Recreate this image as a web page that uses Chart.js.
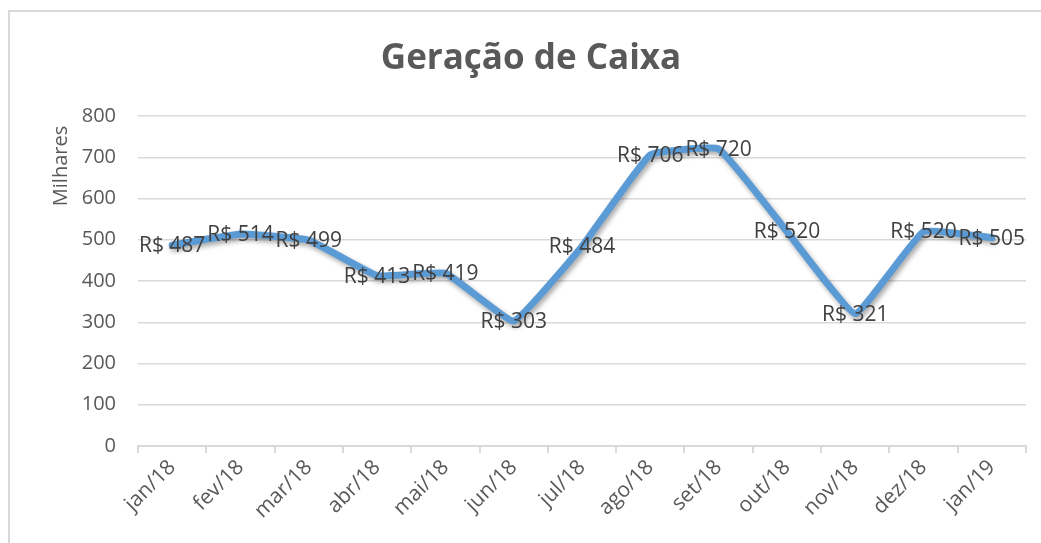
<!DOCTYPE html>
<html>
<head>
<meta charset="utf-8">
<script src="https://cdn.jsdelivr.net/npm/chart.js@4"></script>
<style>
  html, body { margin: 0; padding: 0; background: #fff; }
  #wrap { position: relative; width: 1041px; height: 543px; overflow: hidden; }
  #frame { position: absolute; left: 8px; top: 10px; width: 1100px; height: 600px;
           border-left: 2px solid #d9d9d9; border-top: 2px solid #d9d9d9; }
  canvas { position: absolute; left: 0; top: 0; }
</style>
</head>
<body>
<div id="wrap">
  <div id="frame"></div>
  <canvas id="chart" width="1041" height="543"></canvas>
</div>
<script>
// dados do gráfico
const meses = ['jan/18', 'fev/18', 'mar/18', 'abr/18', 'mai/18', 'jun/18', 'jul/18',
               'ago/18', 'set/18', 'out/18', 'nov/18', 'dez/18', 'jan/19'];
const geracao = [487, 514, 499, 413, 419, 303, 484, 706, 720, 520, 321, 520, 505];
const yTicks = [0, 100, 200, 300, 400, 500, 600, 700, 800];

const FONT = '"Open Sans", sans-serif';
const GREY = '#595959';

// sombra na linha, como no Excel
const shadowPlugin = {
    id: 'lineShadow',
    beforeDatasetsDraw(chart) {
        const ctx = chart.ctx;
        ctx.save();
        ctx.shadowColor = 'rgba(0,0,0,0.35)';
        ctx.shadowBlur = 5;
        ctx.shadowOffsetX = 2;
        ctx.shadowOffsetY = 3;
    },
    afterDatasetsDraw(chart) {
        chart.ctx.restore();
    }
};

// rótulos R$ centrados no ponto, título e título do eixo
const labelsPlugin = {
    id: 'valueLabels',
    afterDraw(chart) {
        const ctx = chart.ctx;
        const meta = chart.getDatasetMeta(0);
        ctx.save();
        ctx.font = '21px ' + FONT;
        ctx.fillStyle = '#404040';
        ctx.textAlign = 'center';
        ctx.textBaseline = 'middle';
        meta.data.forEach((pt, i) => {
            ctx.fillText('R$ ' + geracao[i], pt.x, pt.y + 1);
        });
        // título
        ctx.fillStyle = GREY;
        ctx.font = 'bold 35px ' + FONT;
        ctx.fillText('Geração de Caixa', 531, 59);
        // Milhares
        ctx.translate(61, 166);
        ctx.rotate(-Math.PI / 2);
        ctx.font = '20px ' + FONT;
        ctx.fillText('Milhares', 0, 0);
        ctx.restore();
    }
};

new Chart(document.getElementById('chart'), {
    type: 'line',
    data: {
        labels: meses,
        datasets: [{
            data: geracao,
            borderColor: '#5b9bd5',
            borderWidth: 7,
            borderCapStyle: 'round',
            borderJoinStyle: 'round',
            tension: 0.1,
            pointRadius: 0,
            fill: false
        }]
    },
    options: {
        responsive: false,
        animation: false,
        layout: { padding: { left: 0, right: 15, top: 116, bottom: 0 } },
        plugins: {
            legend: { display: false },
            tooltip: { enabled: false },
            title: { display: false }
        },
        scales: {
            x: {
                offset: true,
                grid: { offset: true, drawOnChartArea: false, color: '#d9d9d9', tickLength: 7, lineWidth: 2 },
                border: { color: '#d9d9d9', width: 2 },
                ticks: {
                    color: GREY,
                    font: { family: FONT, size: 21 },
                    minRotation: 45,
                    maxRotation: 45,
                    padding: 2
                },
                afterFit(scale) { scale.height = 97; }
            },
            y: {
                min: 0,
                max: 800,
                afterBuildTicks(scale) { scale.ticks = yTicks.map(v => ({ value: v })); },
                grid: { color: '#d9d9d9', lineWidth: 1.5, drawTicks: false },
                border: { display: false },
                ticks: {
                    color: GREY,
                    font: { family: FONT, size: 20 },
                    padding: 22
                },
                afterFit(scale) { scale.width = 138; }
            }
        }
    },
    plugins: [shadowPlugin, labelsPlugin]
});
</script>
</body>
</html>
